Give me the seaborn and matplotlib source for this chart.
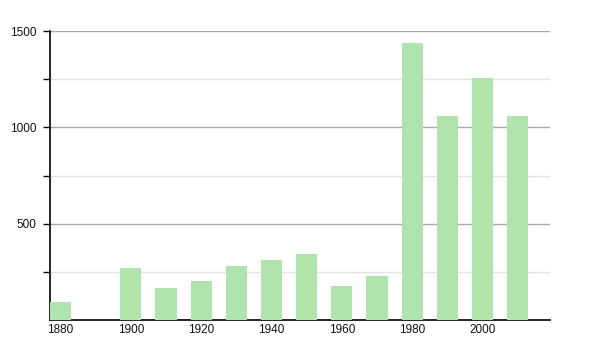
import matplotlib
matplotlib.use("Agg")
import matplotlib.pyplot as plt
from matplotlib.ticker import FixedLocator
import seaborn as sns
import pandas as pd

years = [1880, 1900, 1910, 1920, 1930, 1940, 1950, 1960, 1970, 1980, 1990, 2000, 2010]
population = [93, 269, 167, 200, 278, 313, 341, 174, 226, 1439, 1060, 1254, 1058]
xtick_years = [1880, 1900, 1920, 1940, 1960, 1980, 2000]
ytick_major = [500, 1000, 1500]
ytick_minor = [250, 750, 1250]

df = pd.DataFrame({"year": years, "population": population})

sns.set_theme(style="white")
plt.rcParams["font.family"] = ["Liberation Sans", "DejaVu Sans"]

fig = plt.figure(figsize=(6, 3.5), dpi=100)
ax = fig.add_axes([50 / 600, 30 / 350, 500 / 600, 289 / 350])

sns.barplot(data=df, x="year", y="population", native_scale=True, width=0.6,
            color="#b0e4ad", saturation=1, edgecolor="none", ax=ax, zorder=3)

ax.set_xlim(1877, 2019.2)
ax.set_ylim(0, 1500)
ax.yaxis.set_major_locator(FixedLocator(ytick_major))
ax.yaxis.set_minor_locator(FixedLocator(ytick_minor))
ax.xaxis.set_major_locator(FixedLocator(xtick_years))
ax.set_xticklabels([str(y) for y in xtick_years])

ax.grid(which="major", axis="y", color="#aaaaaa", linewidth=1, zorder=1)
ax.grid(which="minor", axis="y", color="#e4e4e4", linewidth=1, zorder=1)
ax.grid(which="major", axis="x", visible=False)
ax.set_axisbelow(True)

for s in ["top", "right"]:
    ax.spines[s].set_visible(False)
for s in ["left", "bottom"]:
    ax.spines[s].set_color("black")
    ax.spines[s].set_linewidth(1.2)

ax.tick_params(axis="y", which="major", left=True, length=5, width=1, color="black",
               labelsize=8.5, pad=5, labelcolor="#111111")
ax.tick_params(axis="y", which="minor", left=True, length=5, width=1, color="black")
ax.tick_params(axis="x", which="major", bottom=False, length=0, labelsize=8.5, pad=3,
               labelcolor="#111111")

ax.set_xlabel("")
ax.set_ylabel("")

fig.savefig("out.png", dpi=100)
